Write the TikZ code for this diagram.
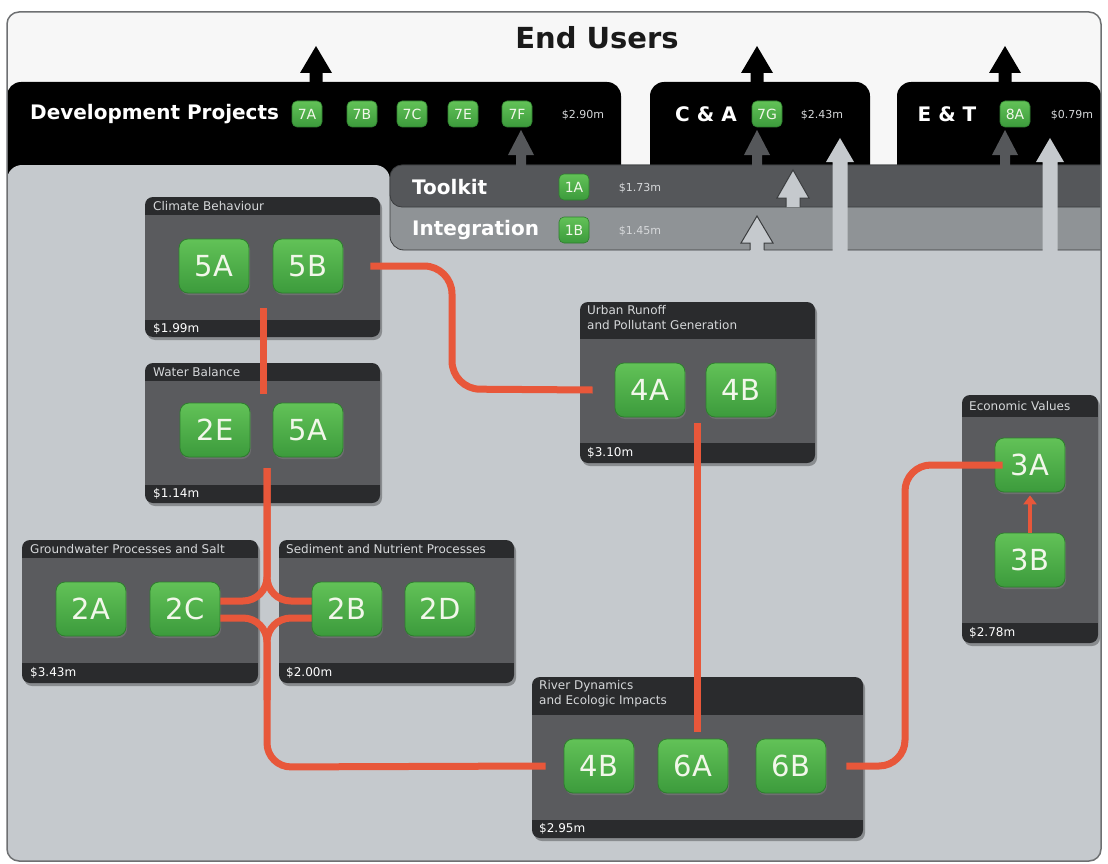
\documentclass[tikz,border=0pt]{standalone}
\usepackage{fontspec}
\setmainfont{DejaVu Sans}
\usetikzlibrary{shadows,arrows.meta}
\definecolor{topwhite}{HTML}{F7F7F7}
\definecolor{framegray}{HTML}{6E7072}
\definecolor{maingray}{HTML}{C5C9CD}
\definecolor{toolgray}{HTML}{55575A}
\definecolor{intgray}{HTML}{8F9396}
\definecolor{bardark}{HTML}{3A3C3E}
\definecolor{boxbody}{HTML}{5A5B5E}
\definecolor{boxdark}{HTML}{2A2B2D}
\definecolor{connred}{HTML}{E8573A}
\definecolor{gtop}{HTML}{62C257}
\definecolor{gbot}{HTML}{3C9B3C}
\definecolor{gedge}{HTML}{2E7D2E}
\definecolor{btntext}{HTML}{F2F7EA}
\definecolor{lbltext}{HTML}{D6D8DA}
\definecolor{titletext}{HTML}{1A1A1A}
\newcommand\uparr[7]{\path[#1] ({#2-#6},#7) -- ({#2-#6},#4) -- ({#2-#5},#4) -- (#2,#3) -- ({#2+#5},#4) -- ({#2+#6},#4) -- ({#2+#6},#7);}
\newcommand\modbox[6]{%
  \fill[black, opacity=0.3, rounded corners=8pt] ({#1+2},{#2+3}) rectangle ({#3+2},{#4+3});
  \fill[boxdark, rounded corners=8pt] (#1,#2) rectangle (#3,#4);
  \fill[boxbody] (#1,#5) rectangle (#3,#6);}
\begin{document}
\begin{tikzpicture}[x=1pt,y=-1pt,
  bigbtn/.style={draw=gedge, line width=0.8pt, top color=gtop, bottom color=gbot,
    rounded corners=9pt, minimum width=70pt, minimum height=54pt, inner sep=0pt,
    text=btntext, font=\fontsize{29}{30}\selectfont,
    drop shadow={shadow xshift=1pt, shadow yshift=-2pt, opacity=0.55}},
  smallbtn/.style={draw=gedge, line width=0.6pt, top color=gtop, bottom color=gbot,
    rounded corners=5pt, minimum width=30pt, minimum height=26pt, inner sep=0pt,
    text=btntext, font=\fontsize{14}{15}\selectfont},
  bartitle/.style={text=white, font=\bfseries\fontsize{20}{22}\selectfont, inner sep=0pt},
  barcost/.style={text=lbltext, font=\fontsize{11}{12}\selectfont, inner sep=0pt},
  ttl/.style={text=lbltext, font=\fontsize{12}{15.5}\selectfont, inner sep=0pt, align=left},
  cst/.style={text=white, font=\fontsize{12}{13}\selectfont, inner sep=0pt},
  conn/.style={draw=connred, line width=7pt}
]
\useasboundingbox (0,0) rectangle (1108,864);
\fill[white] (0,0) rectangle (1108,864);
\begin{scope}
\clip[rounded corners=12pt] (7,12) rectangle (1101,861);
\fill[topwhite] (7,12) rectangle (1101,861);
% black bars
\fill[black, rounded corners=14pt] (7,82) rectangle (621,200);
\fill[black, rounded corners=14pt] (650,82) rectangle (870,200);
\fill[black, rounded corners=14pt] (897,82) rectangle (1101,200);
% black arrows to end users
\uparr{fill=black}{316}{46}{73}{16}{6.5}{90}
\uparr{fill=black}{757}{46}{73}{16}{6.5}{90}
\uparr{fill=black}{1005}{46}{73}{16}{6.5}{90}
% main grey area
\fill[maingray, rounded corners=15pt] (7,875) -- (7,165) -- (390,165) -- (390,250) -- (1120,250) -- (1120,875) -- cycle;
% integration and toolkit bars
\filldraw[fill=intgray, draw=bardark, line width=0.8pt, rounded corners=14pt] (1120,165) -- (390,165) -- (390,250) -- (1120,250);
\filldraw[fill=toolgray, draw=bardark, line width=0.8pt, rounded corners=12pt] (1120,165) -- (390,165) -- (390,207) -- (1120,207);
% arrows between layers
\uparr{fill=toolgray}{521}{130}{155}{13}{5}{166}
\uparr{fill=toolgray}{757}{130}{155}{13}{5}{166}
\uparr{fill=toolgray}{1005}{130}{155}{13}{5}{166}
\uparr{fill=maingray}{793}{170}{198}{16}{7}{207}
\uparr{draw=bardark, line width=1pt}{793}{170}{198}{16}{7}{207}
\uparr{fill=maingray}{757}{216}{243}{16}{7}{252}
\uparr{draw=bardark, line width=1pt}{757}{216}{243}{16}{7}{250}
\uparr{fill=maingray}{840}{138}{162}{14}{7.5}{252}
\uparr{fill=maingray}{1050}{138}{162}{14}{7.5}{252}
\end{scope}
% top texts
\node[font=\bfseries\fontsize{29}{31}\selectfont, text=titletext, inner sep=0pt] (tEnd) at (597,38) {End Users};
\node[bartitle, anchor=west] (tDev) at (30,114) {Development Projects};
\node[smallbtn] (b7A) at (307,114) {7A};
\node[smallbtn] (b7B) at (362,114) {7B};
\node[smallbtn] (b7C) at (412,114) {7C};
\node[smallbtn] (b7E) at (463,114) {7E};
\node[smallbtn] (b7F) at (517,114) {7F};
\node[barcost] (cDev) at (583,115) {\$2.90m};
\node[bartitle] (tCA) at (706,114) {C \& A};
\node[smallbtn] (b7G) at (767,114) {7G};
\node[barcost] (cCA) at (822,115) {\$2.43m};
\node[bartitle] (tET) at (947,114) {E \& T};
\node[smallbtn] (b8A) at (1015,114) {8A};
\node[barcost] (cET) at (1072,115) {\$0.79m};
\node[bartitle, anchor=west] (tTool) at (412,187) {Toolkit};
\node[smallbtn] (b1A) at (574,187) {1A};
\node[barcost] (cTool) at (640,188) {\$1.73m};
\node[bartitle, anchor=west] (tInt) at (412,230) {Integration};
\node[smallbtn] (b1B) at (574,230) {1B};
\node[barcost] (cInt) at (640,231) {\$1.45m};
% module boxes
\modbox{145}{197}{380}{337}{215}{320}
\node[ttl, anchor=west] (tClim) at (153,206) {Climate Behaviour};
\node[cst, anchor=west] (cClim) at (153,329) {\$1.99m};
\modbox{145}{363}{380}{503}{381}{485}
\node[ttl, anchor=west] (tWat) at (153,372) {Water Balance};
\node[cst, anchor=west] (cWat) at (153,494) {\$1.14m};
\modbox{580}{302}{815}{463}{339}{443}
\node[ttl, anchor=north west] (tUrb) at (587,305) {Urban Runoff\\and Pollutant Generation};
\node[cst, anchor=west] (cUrb) at (587,453) {\$3.10m};
\modbox{962}{395}{1098}{643}{417}{623}
\node[ttl, anchor=west] (tEco) at (969,406) {Economic Values};
\node[cst, anchor=west] (cEco) at (969,633) {\$2.78m};
\modbox{22}{540}{258}{683}{558}{663}
\node[ttl, anchor=west] (tGw) at (30,549) {Groundwater Processes and Salt};
\node[cst, anchor=west] (cGw) at (30,673) {\$3.43m};
\modbox{279}{540}{514}{683}{558}{663}
\node[ttl, anchor=west] (tSed) at (286,549) {Sediment and Nutrient Processes};
\node[cst, anchor=west] (cSed) at (286,673) {\$2.00m};
\modbox{532}{677}{863}{838}{715}{820}
\node[ttl, anchor=north west] (tRiv) at (539,680) {River Dynamics\\and Ecologic Impacts};
\node[cst, anchor=west] (cRiv) at (539,829) {\$2.95m};
% buttons
\node[bigbtn] (b5A) at (214,266) {5A};
\node[bigbtn] (b5B) at (308,266) {5B};
\node[bigbtn] (b2E) at (215,430) {2E};
\node[bigbtn] (b5Aw) at (308,430) {5A};
\node[bigbtn] (b4A) at (650,390) {4A};
\node[bigbtn] (b4B) at (741,390) {4B};
\node[bigbtn] (b3A) at (1030,465) {3A};
\node[bigbtn] (b3B) at (1030,560) {3B};
\node[bigbtn] (b2A) at (91,609) {2A};
\node[bigbtn] (b2C) at (185,609) {2C};
\node[bigbtn] (b2B) at (347,609) {2B};
\node[bigbtn] (b2D) at (440,609) {2D};
\node[bigbtn] (b4Br) at (599,766) {4B};
\node[bigbtn] (b6A) at (693,766) {6A};
\node[bigbtn] (b6B) at (791,766) {6B};
% connectors
\coordinate (cw1) at (263,308);
\coordinate (cw2) at (263,394);
\coordinate (wbOut) at (267,468);
\coordinate (uOut) at (697,423);
\coordinate (uIn) at (697,732);
\draw[conn, rounded corners=28pt] ([xshift=27pt]b5B.east) -- (452,266) -- (452,389) -- ([xshift=-22pt]b4A.west);
\draw[conn] (cw1) -- (cw2);
\draw[conn, rounded corners=24pt] (wbOut) -- (267,601) -- ([yshift=8pt]b2C.east);
\draw[conn, rounded corners=24pt] (wbOut) -- (267,601) -- ([yshift=8pt]b2B.west);
\draw[conn, rounded corners=24pt] ([yshift=-9pt]b2C.east) -- (267,618) -- (267,767) -- ([xshift=-18pt]b4Br.west);
\draw[conn, rounded corners=24pt] ([yshift=-9pt]b2B.west) -- (267,618) -- (267,700);
\draw[conn] (uOut) -- (uIn);
\draw[conn, rounded corners=26pt] ([xshift=20pt]b6B.east) -- (905,766) -- (905,465) -- ([xshift=8pt]b3A.west);
\draw[connred, line width=4.5pt, -{Triangle[length=9pt,width=13pt]}] (b3B.north) -- ([yshift=-3pt]b3A.south);
% frame
\draw[framegray, line width=1.5pt, rounded corners=12pt] (7,12) rectangle (1101,861);
\end{tikzpicture}
\end{document}
